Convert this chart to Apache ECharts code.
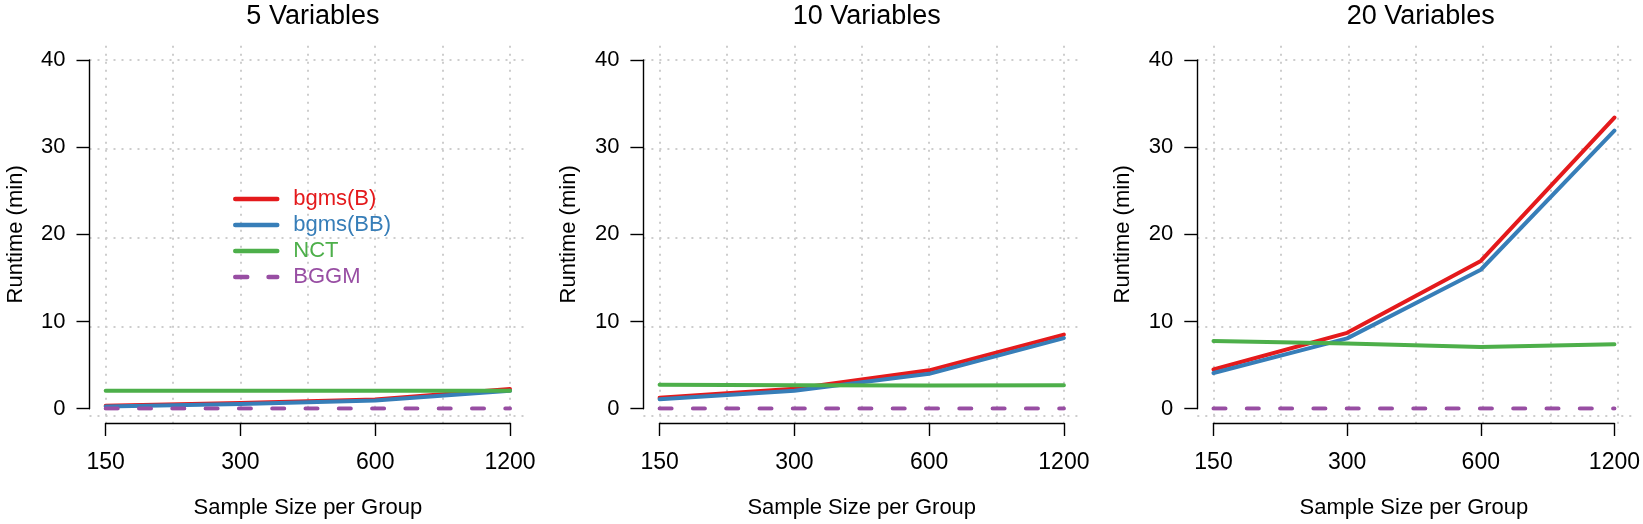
<!DOCTYPE html>
<html>
<head>
<meta charset="utf-8">
<script src="https://cdn.jsdelivr.net/npm/echarts@6/dist/echarts.min.js"></script>
<style>
html,body{margin:0;padding:0;background:#fff;}
#chart{width:1643px;height:524px;}
</style>
</head>
<body>
<div id="chart"></div>
<script>
// ---- data ----
const categories = ['150', '300', '600', '1200'];
const panelTitles = ['5 Variables', '10 Variables', '20 Variables'];
const seriesNames = ['bgms(B)', 'bgms(BB)', 'NCT', 'BGGM'];
const yTicks = [0, 10, 20, 30, 40];
const xGridPositions = [1, 1.5, 2, 2.5, 3, 3.5, 4];

const bgmsB_5  = [0.35, 0.65, 1.05, 2.25];
const bgmsBB_5 = [0.25, 0.55, 0.95, 2.05];
const nct_5    = [2.07, 2.07, 2.07, 2.07];
const bggm_5   = [0.02, 0.02, 0.02, 0.02];

const bgmsB_10  = [1.25, 2.3, 4.4, 8.5];
const bgmsBB_10 = [1.09, 2.07, 4.0, 8.1];
const nct_10    = [2.75, 2.7, 2.65, 2.7];
const bggm_10   = [0.02, 0.02, 0.02, 0.02];

const bgmsB_20  = [4.5, 8.7, 16.95, 33.4];
const bgmsBB_20 = [4.1, 8.07, 15.94, 31.9];
const nct_20    = [7.76, 7.47, 7.09, 7.4];
const bggm_20   = [0.03, 0.03, 0.03, 0.03];

const panelData = [
  [bgmsB_5, bgmsBB_5, nct_5, bggm_5],
  [bgmsB_10, bgmsBB_10, nct_10, bggm_10],
  [bgmsB_20, bgmsBB_20, nct_20, bggm_20]
];

// ---- styling / layout ----
const colors = ['#E41A1C', '#377EB8', '#4DAF4A', '#984EA3'];
const FONT = 'Liberation Sans, Arial, Helvetica, sans-serif';
const panelDx = [0, 553.9, 1107.8];
const gridLineStyle = { color: '#cdcdcd', width: 2, type: [2, 6] };

const grids = [], xAxes = [], yAxes = [], series = [], titles = [];

panelDx.forEach((dx, p) => {
  // grid A: full plot region (for dotted grid lines)
  grids.push({ left: 89.5 + dx, top: 45.8, width: 436.7, height: 384.2, containLabel: false });
  // grid B: data region
  grids.push({ left: 105.7 + dx, top: 60, width: 404.3, height: 355.7, containLabel: false });
  const gA = 2 * p, gB = 2 * p + 1;

  xAxes.push({
    gridIndex: gA, type: 'value', min: 0.88, max: 4.12,
    axisLine: { show: false },
    axisTick: { show: false, customValues: xGridPositions },
    axisLabel: { show: false, customValues: xGridPositions },
    splitLine: { show: true, lineStyle: gridLineStyle }
  });
  yAxes.push({
    gridIndex: gA, type: 'value', min: -1.6, max: 41.6,
    axisLine: { show: false },
    axisTick: { show: false, customValues: yTicks },
    axisLabel: { show: false, customValues: yTicks },
    splitLine: { show: true, lineStyle: gridLineStyle }
  });

  xAxes.push({
    gridIndex: gB, type: 'category', data: categories, boundaryGap: false,
    position: 'bottom', offset: 14.3,
    axisLine: { show: true, onZero: false, lineStyle: { color: '#000', width: 1.4 } },
    axisTick: { show: true, inside: false, length: 13, lineStyle: { color: '#000', width: 1.4 } },
    axisLabel: { show: true, fontSize: 23, color: '#000', fontFamily: FONT, margin: 28 },
    splitLine: { show: false },
    name: 'Sample Size per Group', nameLocation: 'middle', nameGap: 74,
    nameTextStyle: { fontSize: 22, color: '#000', fontFamily: FONT }
  });
  yAxes.push({
    gridIndex: gB, type: 'value', min: 0, max: 40, interval: 10,
    position: 'left', offset: 16.2,
    axisLine: { show: true, onZero: false, lineStyle: { color: '#000', width: 1.4 } },
    axisTick: { show: true, inside: false, length: 13, lineStyle: { color: '#000', width: 1.4 } },
    axisLabel: { show: true, fontSize: 22, color: '#000', fontFamily: FONT, margin: 24 },
    splitLine: { show: false },
    name: 'Runtime (min)', nameLocation: 'middle', nameGap: 63, nameRotate: 90,
    nameTextStyle: { fontSize: 22, color: '#000', fontFamily: FONT }
  });

  panelData[p].forEach((vals, s) => {
    series.push({
      name: seriesNames[s], type: 'line', xAxisIndex: gB, yAxisIndex: gB,
      data: vals, symbol: 'none', silent: true, z: 2 + s,
      lineStyle: {
        color: colors[s], width: 4, cap: 'round', join: 'round',
        type: s === 3 ? [12, 21.3] : 'solid'
      },
      itemStyle: { color: colors[s] }
    });
  });

  titles.push({
    text: panelTitles[p], left: 307.9 + dx, top: -2, textAlign: 'center',
    textStyle: { fontSize: 27, fontWeight: 'normal', color: '#000', fontFamily: FONT }
  });
});

const chart = echarts.init(document.getElementById('chart'), null, { renderer: 'canvas' });
chart.setOption({
  animation: false,
  backgroundColor: '#fff',
  title: titles,
  grid: grids,
  xAxis: xAxes,
  yAxis: yAxes,
  legend: {
    orient: 'vertical', left: 233, top: 188, padding: 0,
    itemWidth: 42, itemHeight: 20, itemGap: 4,
    selectedMode: false,
    itemStyle: { opacity: 0 },
    lineStyle: { width: 4.5 },
    textStyle: { fontSize: 22, fontFamily: FONT, lineHeight: 20, padding: [0, 0, 0, 11] },
    data: seriesNames.map((n, i) => ({ name: n, textStyle: { color: colors[i] } }))
  },
  series: series
});
</script>
</body>
</html>
